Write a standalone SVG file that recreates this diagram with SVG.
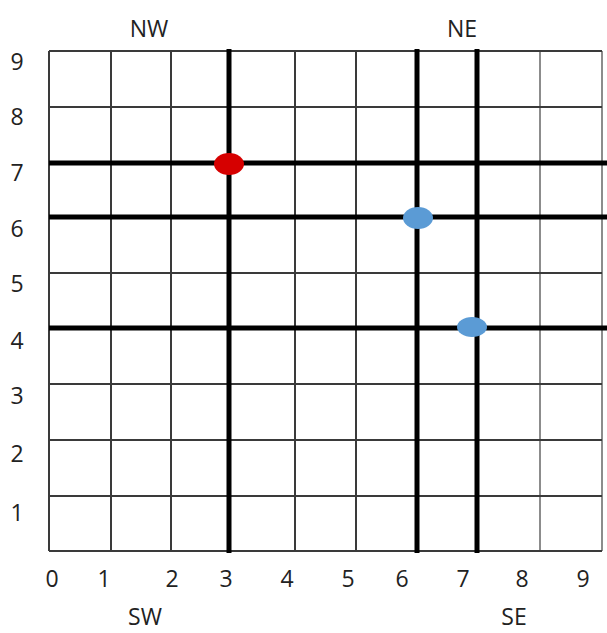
<svg xmlns="http://www.w3.org/2000/svg" width="607" height="633" viewBox="0 0 607 633">
<style>
.bg{fill:#ffffff}
.thin{stroke:#3a3a3a;stroke-width:2;fill:none}
.gray{stroke:#8c8c8c;stroke-width:2;fill:none}
.thick{stroke:#000000;stroke-width:5;fill:none}
.lbl{font-family:"Open Sans","Liberation Sans",sans-serif;font-size:23px;fill:#222222;text-anchor:middle}
</style>
<rect class="bg" x="0" y="0" width="607" height="633"/>
<g id="grid">
<g id="thin-verticals">
<line class="thin" x1="49" y1="51" x2="49" y2="551"/>
<line class="thin" x1="111" y1="51" x2="111" y2="551"/>
<line class="thin" x1="171" y1="51" x2="171" y2="551"/>
<line class="thin" x1="295" y1="51" x2="295" y2="551"/>
<line class="thin" x1="356" y1="51" x2="356" y2="551"/>
<line class="gray" x1="540" y1="51" x2="540" y2="551"/>
<line class="gray" x1="602" y1="51" x2="602" y2="551"/>
</g>
<g id="thin-horizontals">
<line class="thin" x1="49" y1="51" x2="602" y2="51"/>
<line class="thin" x1="49" y1="107" x2="602" y2="107"/>
<line class="thin" x1="49" y1="273" x2="602" y2="273"/>
<line class="thin" x1="49" y1="384" x2="602" y2="384"/>
<line class="thin" x1="49" y1="440" x2="602" y2="440"/>
<line class="thin" x1="49" y1="496" x2="602" y2="496"/>
<line class="thin" x1="49" y1="551" x2="602" y2="551"/>
</g>
</g>
<g id="connectors">
<line class="thick" x1="49" y1="163" x2="607" y2="163"/>
<line class="thick" x1="49" y1="217" x2="607" y2="217"/>
<line class="thick" x1="49" y1="328" x2="607" y2="328"/>
<line class="thick" x1="229" y1="49" x2="229" y2="553"/>
<line class="thick" x1="417" y1="49" x2="417" y2="553"/>
<line class="thick" x1="477" y1="49" x2="477" y2="553"/>
</g>
<g id="point-red"><ellipse cx="229" cy="164" rx="15" ry="11" fill="#d60000"/></g>
<g id="point-blue-1"><ellipse cx="418" cy="218" rx="15" ry="11" fill="#5b9bd5"/></g>
<g id="point-blue-2"><ellipse cx="472" cy="327" rx="15" ry="10" fill="#5b9bd5"/></g>
<g id="labels">
<text class="lbl" x="149" y="37">NW</text>
<text class="lbl" x="462" y="37">NE</text>
<text class="lbl" x="145" y="625">SW</text>
<text class="lbl" x="514" y="625">SE</text>
<text class="lbl" x="17" y="70">9</text>
<text class="lbl" x="17" y="125">8</text>
<text class="lbl" x="17" y="181">7</text>
<text class="lbl" x="17" y="237">6</text>
<text class="lbl" x="17" y="292">5</text>
<text class="lbl" x="17" y="349">4</text>
<text class="lbl" x="17" y="404">3</text>
<text class="lbl" x="17" y="462">2</text>
<text class="lbl" x="17" y="521">1</text>
<text class="lbl" x="52" y="587">0</text>
<text class="lbl" x="104" y="587">1</text>
<text class="lbl" x="172" y="587">2</text>
<text class="lbl" x="226" y="587">3</text>
<text class="lbl" x="287" y="587">4</text>
<text class="lbl" x="348" y="587">5</text>
<text class="lbl" x="402" y="587">6</text>
<text class="lbl" x="463" y="587">7</text>
<text class="lbl" x="522" y="587">8</text>
<text class="lbl" x="583" y="587">9</text>
</g>
</svg>
